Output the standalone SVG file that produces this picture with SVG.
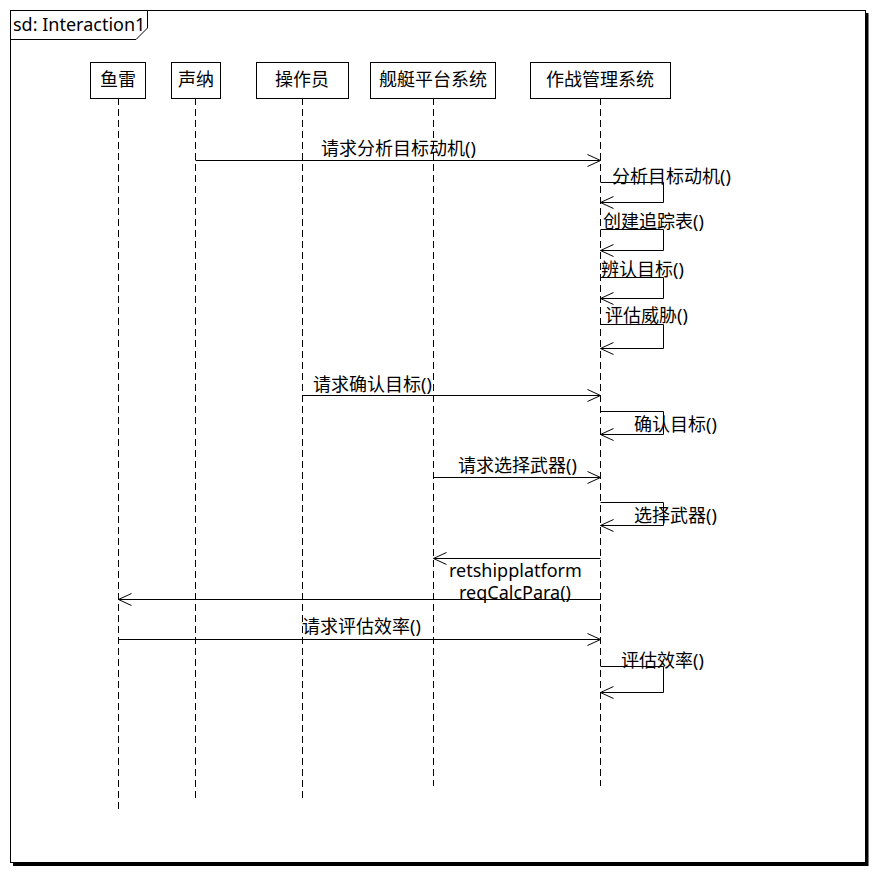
<svg xmlns="http://www.w3.org/2000/svg" width="877" height="875" viewBox="0 0 877 875">
<style>
text{font-family:"Noto Sans","Noto Sans CJK SC",sans-serif;font-size:18px;fill:#000}
.head rect{fill:#fff;stroke:#000;stroke-width:1}
.head text{text-anchor:middle}
.life{stroke:#000;stroke-width:1;stroke-dasharray:7 4;fill:none}
.msg{stroke:#000;stroke-width:1;fill:none}
.ah{stroke:#000;stroke-width:1;fill:none}
</style>
<defs>
<marker id="open" markerWidth="16" markerHeight="14" refX="14" refY="7" orient="auto" markerUnits="userSpaceOnUse">
<path d="M1,1 L14,7 L1,13" class="ah"/>
</marker>
</defs>
<rect x="0" y="0" width="877" height="875" fill="#fff"/>
<g id="frame">
<rect x="10.5" y="10.5" width="855" height="852" fill="#fff" stroke="#000" stroke-width="1"/>
<path d="M867,13 V866 M13,864.5 H868.5" stroke="#000" stroke-width="3" fill="none"/>
<path d="M10.5,39.5 H136 L147.5,28 V10.5" stroke="#000" stroke-width="1" fill="none"/>
<text x="13" y="31">sd: Interaction1</text>
</g>
<g id="lifelines">
<line class="life" x1="118.5" y1="98" x2="118.5" y2="812"/>
<line class="life" x1="195.5" y1="98" x2="195.5" y2="802"/>
<line class="life" x1="302.5" y1="98" x2="302.5" y2="802"/>
<line class="life" x1="433.5" y1="98" x2="433.5" y2="786"/>
<line class="life" x1="600.5" y1="98" x2="600.5" y2="786"/>
</g>
<g id="n_yulei" class="head"><rect x="90.5" y="62.5" width="55" height="36"/><text x="118" y="86">鱼雷</text></g>
<g id="n_shengna" class="head"><rect x="171.5" y="62.5" width="49" height="36"/><text x="196" y="86">声纳</text></g>
<g id="n_caozuoyuan" class="head"><rect x="256.5" y="62.5" width="92" height="36"/><text x="302" y="86">操作员</text></g>
<g id="n_jianting" class="head"><rect x="370.5" y="62.5" width="125" height="36"/><text x="433" y="86">舰艇平台系统</text></g>
<g id="n_zuozhan" class="head"><rect x="530.5" y="62.5" width="140" height="36"/><text x="600" y="86">作战管理系统</text></g>
<g id="connectors">
<line class="msg" x1="195.5" y1="160.5" x2="600.5" y2="160.5" marker-end="url(#open)"/>
<path class="msg" d="M600.5,182.5 H663.5 V202.5 H600.5" marker-end="url(#open)"/>
<path class="msg" d="M600.5,229.5 H663.5 V250.5 H600.5" marker-end="url(#open)"/>
<path class="msg" d="M600.5,277.5 H663.5 V298.5 H600.5" marker-end="url(#open)"/>
<path class="msg" d="M600.5,324.5 H663.5 V348.5 H600.5" marker-end="url(#open)"/>
<line class="msg" x1="302.5" y1="395.5" x2="600.5" y2="395.5" marker-end="url(#open)"/>
<path class="msg" d="M600.5,411.5 H663.5 V434.5 H600.5" marker-end="url(#open)"/>
<line class="msg" x1="433.5" y1="477.5" x2="600.5" y2="477.5" marker-end="url(#open)"/>
<path class="msg" d="M600.5,502.5 H663.5 V525.5 H600.5" marker-end="url(#open)"/>
<line class="msg" x1="600.5" y1="558.5" x2="433.5" y2="558.5" marker-end="url(#open)"/>
<line class="msg" x1="600.5" y1="599.5" x2="118.5" y2="599.5" marker-end="url(#open)"/>
<line class="msg" x1="118.5" y1="639.5" x2="600.5" y2="639.5" marker-end="url(#open)"/>
<path class="msg" d="M600.5,666.5 H663.5 V692.5 H600.5" marker-end="url(#open)"/>
<text x="321" y="155">请求分析目标动机()</text>
<text x="612" y="183">分析目标动机()</text>
<text x="603" y="228">创建追踪表()</text>
<text x="601" y="276">辨认目标()</text>
<text x="605" y="322">评估威胁()</text>
<text x="313" y="391">请求确认目标()</text>
<text x="634" y="431">确认目标()</text>
<text x="458" y="472">请求选择武器()</text>
<text x="634" y="522">选择武器()</text>
<text x="449" y="577">retshipplatform</text>
<text x="459" y="599">reqCalcPara()</text>
<text x="302" y="633">请求评估效率()</text>
<text x="621" y="667">评估效率()</text>
</g>
</svg>
